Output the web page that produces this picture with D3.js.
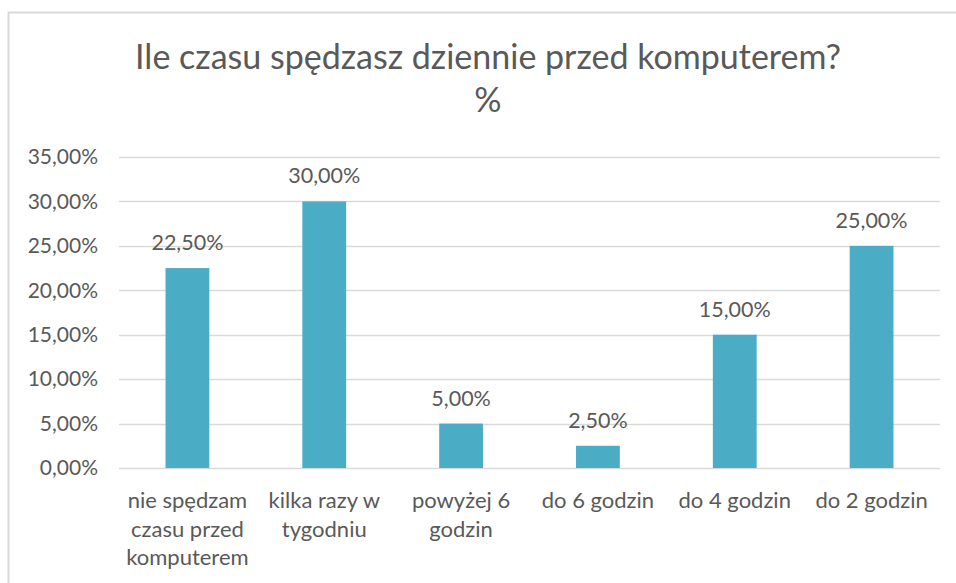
<!DOCTYPE html>
<html>
<head>
<meta charset="utf-8">
<script src="https://cdn.jsdelivr.net/npm/d3@7"></script>
<style>
  body { margin: 0; background: #fff; }
  text { font-family: Lato, "Open Sans", sans-serif; fill: #595959; }
</style>
</head>
<body>
<div id="chart"></div>
<script>
const categories = [
    ["nie spędzam", "czasu przed", "komputerem"],
    ["kilka razy w", "tygodniu"],
    ["powyżej 6", "godzin"],
    ["do 6 godzin"],
    ["do 4 godzin"],
    ["do 2 godzin"]
];
const values = [0.225, 0.30, 0.05, 0.025, 0.15, 0.25];
const yTicks = [0, 0.05, 0.10, 0.15, 0.20, 0.25, 0.30, 0.35];
const titleLines = ["Ile czasu spędzasz dziennie przed komputerem?", "%"];

const width = 956, height = 583;
const margin = {top: 157, right: 16, bottom: 115, left: 119};

const svg = d3.select("#chart")
    .append("svg")
    .attr("width", width)
    .attr("height", height);

// chart frame
svg.append("rect")
    .attr("x", 8.5).attr("y", 12.5)
    .attr("width", width + 10).attr("height", height)
    .attr("fill", "none")
    .attr("stroke", "#d9d9d9")
    .attr("stroke-width", 2);

const fmt = v => (v * 100).toFixed(2).replace(".", ",") + "%";

const x = d3.scaleBand()
    .domain(d3.range(categories.length))
    .range([margin.left, width - margin.right])
    .paddingInner(0.68)
    .paddingOuter(0.34);

const y = d3.scaleLinear()
    .domain([0, 0.35])
    .range([height - margin.bottom, margin.top]);

// gridlines
svg.append("g")
    .selectAll("line")
    .data(yTicks)
    .join("line")
    .attr("x1", margin.left)
    .attr("x2", width - margin.right)
    .attr("y1", d => Math.round(y(d)) + 0.5)
    .attr("y2", d => Math.round(y(d)) + 0.5)
    .attr("stroke", "#d9d9d9")
    .attr("stroke-width", 1.3);

// y axis labels
const yAxis = svg.append("g")
    .attr("transform", `translate(${margin.left - 21},0)`)
    .call(d3.axisLeft(y).tickValues(yTicks).tickFormat(fmt).tickSize(0).tickPadding(0));
yAxis.select(".domain").remove();
yAxis.selectAll("text")
    .attr("font-size", 21)
    .attr("font-family", null)
    .style("fill", "#595959");

// bars
svg.append("g")
    .selectAll("rect")
    .data(values)
    .join("rect")
    .attr("x", (d, i) => x(i))
    .attr("width", x.bandwidth())
    .attr("y", d => y(d))
    .attr("height", d => y(0) - y(d))
    .attr("fill", "#4bacc6");

// data labels
svg.append("g")
    .selectAll("text")
    .data(values)
    .join("text")
    .attr("x", (d, i) => x(i) + x.bandwidth() / 2)
    .attr("y", d => y(d) - 18)
    .attr("text-anchor", "middle")
    .attr("font-size", 21.5)
    .text(fmt);

// category labels
const cat = svg.append("g")
    .selectAll("text")
    .data(categories)
    .join("text")
    .attr("x", (d, i) => x(i) + x.bandwidth() / 2)
    .attr("y", y(0) + 40)
    .attr("text-anchor", "middle")
    .attr("font-size", 22);
cat.selectAll("tspan")
    .data(d => d)
    .join("tspan")
    .attr("x", function () { return this.parentNode.getAttribute("x"); })
    .attr("dy", (d, i) => i === 0 ? 0 : 28.5)
    .text(d => d);

// title
svg.append("g")
    .selectAll("text")
    .data(titleLines)
    .join("text")
    .attr("x", 488)
    .attr("y", (d, i) => 69 + i * 43)
    .attr("text-anchor", "middle")
    .attr("font-size", 34)
    .text(d => d);
</script>
</body>
</html>
